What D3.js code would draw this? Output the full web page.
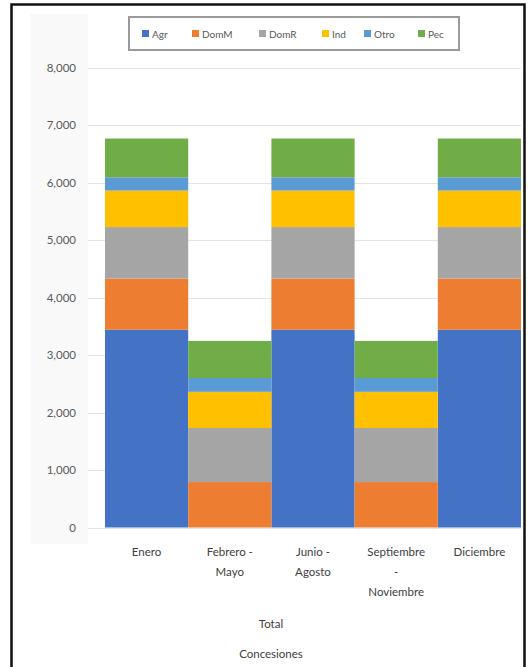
<!DOCTYPE html>
<html>
<head>
<meta charset="utf-8">
<script src="https://cdn.jsdelivr.net/npm/d3@7"></script>
<style>
  html, body { margin: 0; padding: 0; background: #fff; }
  svg { display: block; font-family: Lato, "Open Sans", sans-serif; }
</style>
</head>
<body>
<div id="chart"></div>
<script>
// Stacked columns: concesiones by use type and period.
const categories = ['Enero', 'Febrero - Mayo', 'Junio - Agosto', 'Septiembre - Noviembre', 'Diciembre'];
const categoryLines = [['Enero'], ['Febrero -', 'Mayo'], ['Junio -', 'Agosto'], ['Septiembre', '-', 'Noviembre'], ['Diciembre']];
const seriesNames = ['Agr', 'DomM', 'DomR', 'Ind', 'Otro', 'Pec'];
const agr  = [3440, 0, 3440, 0, 3440];
const domM = [890, 790, 890, 790, 890];
const domR = [895, 940, 895, 940, 895];
const ind  = [635, 630, 635, 630, 635];
const otro = [230, 240, 230, 240, 230];
const pec  = [675, 645, 675, 645, 675];
const yTicks = [0, 1000, 2000, 3000, 4000, 5000, 6000, 7000, 8000];
const axisTitles = ['Total', 'Concesiones'];

(function(){
  const width = 529, height = 667;
  const colors = ['#4472C4', '#ED7D31', '#A5A5A5', '#FFC000', '#5B9BD5', '#70AD47'];
  const values = [agr, domM, domR, ind, otro, pec];

  const rows = categories.map((c, i) => {
    const r = {cat: c};
    seriesNames.forEach((s, j) => { r[s] = values[j][i]; });
    return r;
  });

  const svg = d3.select('#chart').append('svg')
    .attr('width', width).attr('height', height);

  // Frame and faint panel behind the value axis
  svg.append('rect').attr('x', 30).attr('y', 14).attr('width', 58).attr('height', 530)
    .attr('fill', '#f9f9f9');
  svg.append('path')
    .attr('d', 'M11.5,667 V4.5 H524.5 V667')
    .attr('fill', 'none').attr('stroke', '#111').attr('stroke-width', 2.5);

  const x = d3.scaleBand().domain(categories).range([105, 521]).paddingInner(0).paddingOuter(0);
  const y = d3.scaleLinear().domain([0, 8000]).range([527.5, 67.5]);
  const color = d3.scaleOrdinal(seriesNames, colors);

  // Gridlines
  svg.append('g').selectAll('line').data(yTicks).join('line')
    .attr('x1', 88).attr('x2', 521)
    .attr('y1', d => Math.round(y(d)) + 0.5).attr('y2', d => Math.round(y(d)) + 0.5)
    .attr('stroke', '#e3e3e3').attr('stroke-width', 1);

  // Value axis labels
  const fmt = d3.format(',');
  svg.append('g').selectAll('text').data(yTicks).join('text')
    .attr('x', 76).attr('y', d => y(d))
    .attr('dy', '0.35em').attr('text-anchor', 'end')
    .attr('font-size', 11.5).attr('fill', '#595959')
    .text(d => fmt(d));

  // Stacked bars
  const stacked = d3.stack().keys(seriesNames)(rows);
  svg.append('g').selectAll('g').data(stacked).join('g')
    .attr('fill', d => color(d.key))
    .selectAll('rect').data(d => d).join('rect')
    .attr('x', d => x(d.data.cat))
    .attr('width', x.bandwidth())
    .attr('y', d => y(d[1]))
    .attr('height', d => y(d[0]) - y(d[1]));

  // Category labels (wrapped)
  const catG = svg.append('g').attr('font-size', 11.5).attr('fill', '#404040').attr('text-anchor', 'middle');
  categories.forEach((c, i) => {
    const t = catG.append('text').attr('x', x(c) + x.bandwidth() / 2).attr('y', 556);
    t.selectAll('tspan').data(categoryLines[i]).join('tspan')
      .attr('x', x(c) + x.bandwidth() / 2)
      .attr('dy', (d, k) => k === 0 ? 0 : 20)
      .text(d => d);
  });

  // Outer axis titles
  svg.append('g').selectAll('text').data(axisTitles).join('text')
    .attr('x', 271).attr('y', (d, i) => 628 + i * 30)
    .attr('text-anchor', 'middle').attr('font-size', 11.5).attr('fill', '#404040')
    .text(d => d);

  // Legend
  const legend = svg.append('g');
  legend.append('rect').attr('x', 129).attr('y', 17).attr('width', 330).attr('height', 33)
    .attr('fill', '#fff').attr('stroke', '#9a9a9a').attr('stroke-width', 2);
  const legendX = [142, 192, 259, 322, 364, 418];
  const item = legend.selectAll('g.item').data(seriesNames).join('g')
    .attr('class', 'item')
    .attr('transform', (d, i) => `translate(${legendX[i]},34)`);
  item.append('rect').attr('x', 0).attr('y', -4).attr('width', 7).attr('height', 7)
    .attr('fill', d => color(d));
  item.append('text').attr('x', 10).attr('dy', '0.35em')
    .attr('font-size', 10).attr('fill', '#595959')
    .text(d => d);
})();
</script>
</body>
</html>
